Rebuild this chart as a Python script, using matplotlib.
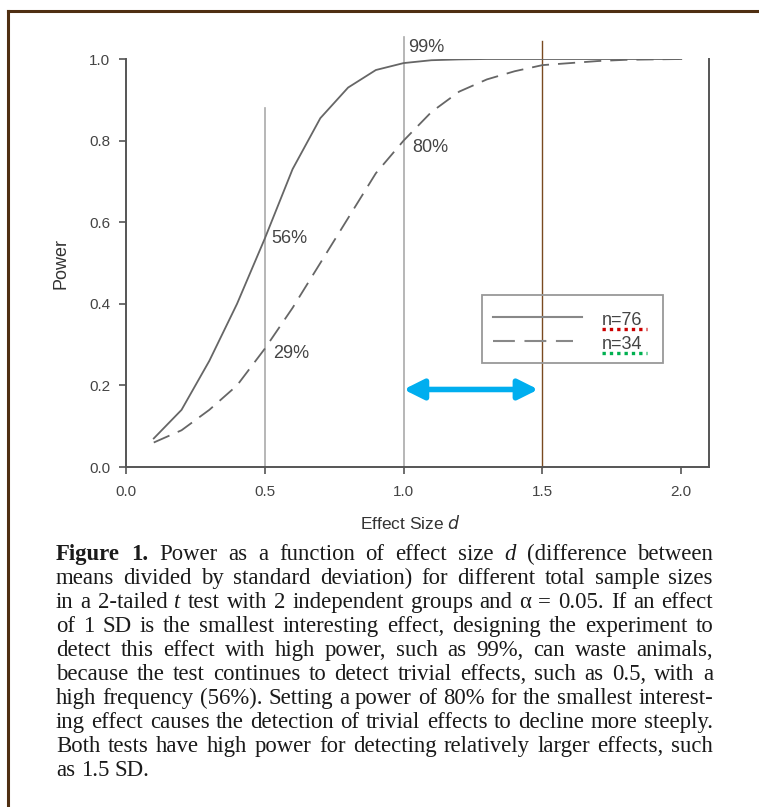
import matplotlib
matplotlib.use("Agg")
import matplotlib.pyplot as plt
from matplotlib.lines import Line2D
from matplotlib.patches import Rectangle

# --- data ---
effect_size = [0.1, 0.2, 0.3, 0.4, 0.5, 0.6, 0.7, 0.8, 0.9, 1.0,
               1.1, 1.2, 1.3, 1.4, 1.5, 1.6, 1.7, 1.8, 1.9, 2.0]
power_n76 = [0.07, 0.14, 0.26, 0.40, 0.56, 0.73, 0.855, 0.93, 0.973, 0.99,
             0.997, 0.999, 1.0, 1.0, 1.0, 1.0, 1.0, 1.0, 1.0, 1.0]
power_n34 = [0.06, 0.09, 0.14, 0.20, 0.29, 0.39, 0.50, 0.61, 0.72, 0.80,
             0.87, 0.92, 0.95, 0.97, 0.985, 0.99, 0.995, 0.998, 0.999, 1.0]
series_labels = ["n=76", "n=34"]
x_ticks = [0.0, 0.5, 1.0, 1.5, 2.0]
y_ticks = [0.0, 0.2, 0.4, 0.6, 0.8, 1.0]

# (x, y, text) callouts
callouts = [(1.015, 1.027, "99%"), (1.03, 0.782, "80%"),
            (0.525, 0.56, "56%"), (0.53, 0.277, "29%")]

caption = [
    "!Figure !1. Power as a function of effect size *d (difference between",
    "means divided by standard deviation) for different total sample sizes",
    "in a 2-tailed *t test with 2 independent groups and \u03b1 = 0.05. If an effect",
    "of 1 SD is the smallest interesting effect, designing the experiment to",
    "detect this effect with high power, such as 99%, can waste animals,",
    "because the test continues to detect trivial effects, such as 0.5, with a",
    "high frequency (56%). Setting a power of 80% for the smallest interest-",
    "ing effect causes the detection of trivial effects to decline more steeply.",
    "Both tests have high power for detecting relatively larger effects, such",
    "as 1.5 SD.",
]

W, H = 759, 807
plt.rcParams["font.family"] = ["Liberation Sans", "DejaVu Sans"]
fig = plt.figure(figsize=(W / 100, H / 100), dpi=100)

# brown frame (top and left edges)
frame_col = "#4f2f12"
fig.add_artist(Line2D([8 / W, 1.0], [1 - 11 / H, 1 - 11 / H], color=frame_col, lw=2.2,
                      transform=fig.transFigure))
fig.add_artist(Line2D([8 / W, 8 / W], [0, 1 - 11 / H], color=frame_col, lw=2.2,
                      transform=fig.transFigure))

ax = fig.add_axes([126 / W, 1 - 467 / H, (709 - 126) / W, (467 - 59) / H])
ax.set_xlim(0, 2.1)
ax.set_ylim(0, 1.0)

axis_col = "#555555"
for side in ("left", "bottom", "right"):
    ax.spines[side].set_color(axis_col)
    ax.spines[side].set_linewidth(1.4)
ax.spines["top"].set_visible(False)
ax.set_xticks(x_ticks)
ax.set_yticks(y_ticks)
ax.set_xticklabels([f"{v:.1f}" for v in x_ticks])
ax.set_yticklabels([f"{v:.1f}" for v in y_ticks])
ax.tick_params(direction="out", length=5, width=1.2, color=axis_col,
               labelcolor="#444444", labelsize=11)
ax.tick_params(axis="x", pad=8)
ax.tick_params(axis="y", pad=6.5, right=False)

# reference lines
ax.plot([0.5, 0.5], [0, 0.88], color="#aaaaaa", lw=1.2, clip_on=False)
ax.plot([1.0, 1.0], [0, 1.054], color="#aaaaaa", lw=1.2, clip_on=False)
ax.plot([1.5, 1.5], [0, 1.045], color="#7a4a20", lw=1.0, clip_on=False)

curve_col = "#666666"
ax.plot(effect_size, power_n76, color=curve_col, lw=1.3)
ax.plot(effect_size, power_n34, color=curve_col, lw=1.3, dashes=(9.5, 5))

for x, y, t in callouts:
    ax.text(x, y, t, fontsize=13, color="#444444", ha="left", va="center", clip_on=False)

# legend (drawn by hand: labels sit to the right of the samples)
ax.add_patch(Rectangle((1.282, 0.255), 0.652, 0.167, fill=False,
                       edgecolor="#999999", lw=1.3, zorder=3))
ax.plot([1.322, 1.643], [0.368, 0.368], color="#888888", lw=1.5, zorder=4)
ax.plot([1.322, 1.61], [0.309, 0.309], color="#888888", lw=1.5, dashes=(10.5, 4.6), zorder=4)
ax.text(1.715, 0.349, series_labels[0], fontsize=13, color="#444444",
        va="baseline", zorder=4)
ax.text(1.715, 0.289, series_labels[1], fontsize=13, color="#444444",
        va="baseline", zorder=4)
ax.plot([1.715, 1.877], [0.339, 0.339], color="#cc0000", lw=2.4, dashes=(1, 1.2), zorder=4)
ax.plot([1.715, 1.877], [0.279, 0.279], color="#00b050", lw=2.4, dashes=(1, 1.2), zorder=4)

# blue double arrow between 1.0 and 1.5
ax.annotate("", xy=(1.0, 0.19), xytext=(1.485, 0.19),
            arrowprops=dict(arrowstyle="<|-|>", color="#00aeef", lw=4,
                            mutation_scale=30, shrinkA=0, shrinkB=0))

ax.set_ylabel("Power", fontsize=13, color="#333333", labelpad=14)
fig.text(410 / W, 1 - 523 / H, "Effect Size $\\mathit{d}$", fontsize=12.5,
         color="#333333", ha="center", va="center")

# justified serif caption, font size fitted so the tightest line sets naturally
left_px, right_px = 56, 713
base0, step = 560, 24.0
renderer = fig.canvas.get_renderer()
serif = ["Liberation Serif", "DejaVu Serif"]


def make_words(line, y, size):
    out = []
    for w in line.split(" "):
        style = dict(family=serif, size=size, color="#1a1a1a")
        if w.startswith("!"):
            w, style["weight"] = w[1:], "bold"
        elif w.startswith("*"):
            w, style["style"] = w[1:], "italic"
        out.append(fig.text(0, y, w, va="baseline", ha="left", **style))
    return out


probe_size = 14.0
space_px = 0.25 * probe_size * 100 / 72
widest = 0
for line in caption[:-1]:
    ws = make_words(line, 0.5, probe_size)
    natural = sum(t.get_window_extent(renderer).width for t in ws) + space_px * (len(ws) - 1)
    widest = max(widest, natural)
    for t in ws:
        t.remove()
cap_size = probe_size * (right_px - left_px - 4) / widest

for i, line in enumerate(caption):
    words = make_words(line, 1 - (base0 + i * step) / H, cap_size)
    widths = [t.get_window_extent(renderer).width for t in words]
    if i < len(caption) - 1 and len(words) > 1:
        gap = (right_px - left_px - sum(widths)) / (len(words) - 1)
    else:
        gap = 0.25 * cap_size * 100 / 72
    x = left_px
    for t, w in zip(words, widths):
        t.set_x(x / W)
        x += w + gap

fig.savefig("out.png", dpi=100)
